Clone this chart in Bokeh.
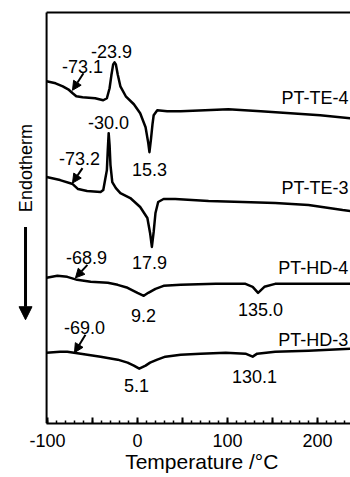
from bokeh.plotting import figure
from bokeh.models import Range1d, FixedTicker, Arrow, NormalHead
from bokeh.core.properties import value
from bokeh.embed import file_html
from bokeh.resources import INLINE

# ---- data (temperature in degC, heat flow in arbitrary offset units) ----
temp_te4 = [-101, -91, -83, -77, -72, -68, -61, -47, -38, -34, -31, -29, -27, -25.5, -24, -22, -19, -13, -4, 3, 9, 12, 13.3, 15, 16.7, 18, 22, 33, 48, 75, 101, 137, 170, 203, 237]
heat_te4 = [343, 341, 338, 335, 331, 328, 327, 326, 324, 326, 336, 349, 360, 362, 360, 350, 338, 328, 320, 311, 297, 281, 272, 285, 300, 309, 314, 313, 313, 314, 315, 313, 311, 309, 306]

temp_te3 = [-101, -86, -72, -66, -56, -41, -38, -36, -34, -33, -32, -31, -30, -28, -24, -19, -8, 3, 11, 14, 16, 18, 20, 23, 29, 42, 79, 117, 153, 190, 228, 237]
heat_te3 = [247, 244, 240, 235, 233, 232, 234, 244, 254, 274, 291, 279, 259, 242, 236, 231, 226, 217, 206, 191, 177, 192, 211, 222, 225, 225, 223, 222, 221, 219, 214, 213]

temp_hd4 = [-101, -89, -78, -67, -52, -33, -22, -11, 0, 7, 12, 20, 29, 48, 87, 120, 128, 134, 141, 153, 192, 237]
heat_hd4 = [146, 148, 147, 144, 142, 141, 139, 136, 131, 128, 131, 135, 138, 139, 140, 140, 137, 131, 137, 140, 140, 140]

temp_hd3 = [-101, -86, -78, -63, -41, -22, -11, -4, 2, 9, 14, 22, 31, 48, 70, 98, 120, 128, 133, 153, 190, 237]
heat_hd3 = [71, 72, 72, 70, 67, 64, 61, 58, 55, 58, 61, 64, 67, 69, 70, 71, 70, 67, 70, 72, 73, 75]

# tick values
major_ticks = [-100, -50, 0, 50, 100, 150, 200]
minor_ticks = [t for t in range(-100, 240, 10)]
tick_label_map = {-100: "-100", -50: "", 50: "", 150: ""}

# annotation texts and their layout positions
ann_text = ["-73.1", "-23.9", "15.3", "-73.2", "-30.0", "17.9", "-68.9", "9.2", "135.0", "-69.0", "5.1", "130.1"]
ann_x = [-61.1, -28.9, 13.3, -64.4, -32.2, 13.3, -56.7, 6.7, 136.7, -58.9, -1.1, 130.0]
ann_y = [358, 373, 255, 266, 302, 161, 166, 108, 114, 96, 38, 47]

name_text = ["PT-TE-4", "PT-TE-3", "PT-HD-4", "PT-HD-3"]
name_x = [160.0, 160.0, 156.5, 156.5]
name_y = [326, 236, 156, 84]

# Tg arrows (tail -> tip)
arr_x0 = [-60.0, -61.1, -55.6, -57.8]
arr_y0 = [351, 256, 159, 89]
arr_x1 = [-72.2, -72.2, -68.9, -70.0]
arr_y1 = [334, 241, 146, 71]

FONT = "Liberation Sans"

p = figure(width=350, height=477, x_range=Range1d(-152.2, 236.7), y_range=Range1d(0, 424),
           output_backend="svg", toolbar_location=None, y_axis_location=None,
           min_border_left=0, min_border_right=0, min_border_top=0, min_border_bottom=54)
p.outline_line_color = None
p.xgrid.visible = False
p.ygrid.visible = False
p.background_fill_color = "white"
p.border_fill_color = "white"

ax = p.xaxis[0]
ax.bounds = (-101, 240)
ax.ticker = FixedTicker(ticks=major_ticks, minor_ticks=minor_ticks)
ax.major_label_overrides = tick_label_map
ax.axis_line_width = 2
ax.axis_line_color = "black"
ax.major_tick_in = 6
ax.major_tick_out = 0
ax.minor_tick_in = 3
ax.minor_tick_out = 0
ax.major_tick_line_width = 2
ax.minor_tick_line_width = 1.5
ax.major_label_text_font = FONT
ax.major_label_text_font_size = "18px"
ax.major_label_text_color = "black"
ax.major_label_standoff = 10
# leading no-break spaces shift the centred title to where the reference has it
ax.axis_label = "\u00a0" * 9 + "Temperature /°C"
ax.axis_label_text_font = FONT
ax.axis_label_text_font_size = "21px"
ax.axis_label_text_font_style = "normal"
ax.axis_label_text_color = "black"
ax.axis_label_standoff = 0

# frame lines: left and top
p.segment(x0=[-101, -101], y0=[0, 412], x1=[-101, 240], y1=[412, 412], line_color="black", line_width=2)

for tx, hy in [(temp_te4, heat_te4), (temp_te3, heat_te3), (temp_hd4, heat_hd4), (temp_hd3, heat_hd3)]:
    p.line(tx, hy, line_color="black", line_width=2.5, line_join="round")

p.text(x=ann_x, y=ann_y, text=ann_text, text_align="center", text_baseline="middle",
       text_font=value(FONT), text_font_size="18px", text_color="black")
p.text(x=name_x, y=name_y, text=name_text, text_align="left", text_baseline="middle",
       text_font=value(FONT), text_font_size="18px", text_color="black")

for x0, y0, x1, y1 in zip(arr_x0, arr_y0, arr_x1, arr_y1):
    p.add_layout(Arrow(end=NormalHead(size=9, fill_color="black", line_color="black"),
                       x_start=x0, y_start=y0, x_end=x1, y_end=y1,
                       line_color="black", line_width=2))

# Endotherm label with downward arrow
p.text(x=[-124.4], y=[256], text=["Endotherm"], angle=1.5708, text_align="center", text_baseline="middle",
       text_font=value(FONT), text_font_size="18px", text_color="black")
p.add_layout(Arrow(end=NormalHead(size=13, fill_color="black", line_color="black"),
                   x_start=-124.4, y_start=197, x_end=-124.4, y_end=104,
                   line_color="black", line_width=3))

open("out.html", "w").write(file_html(p, INLINE))
